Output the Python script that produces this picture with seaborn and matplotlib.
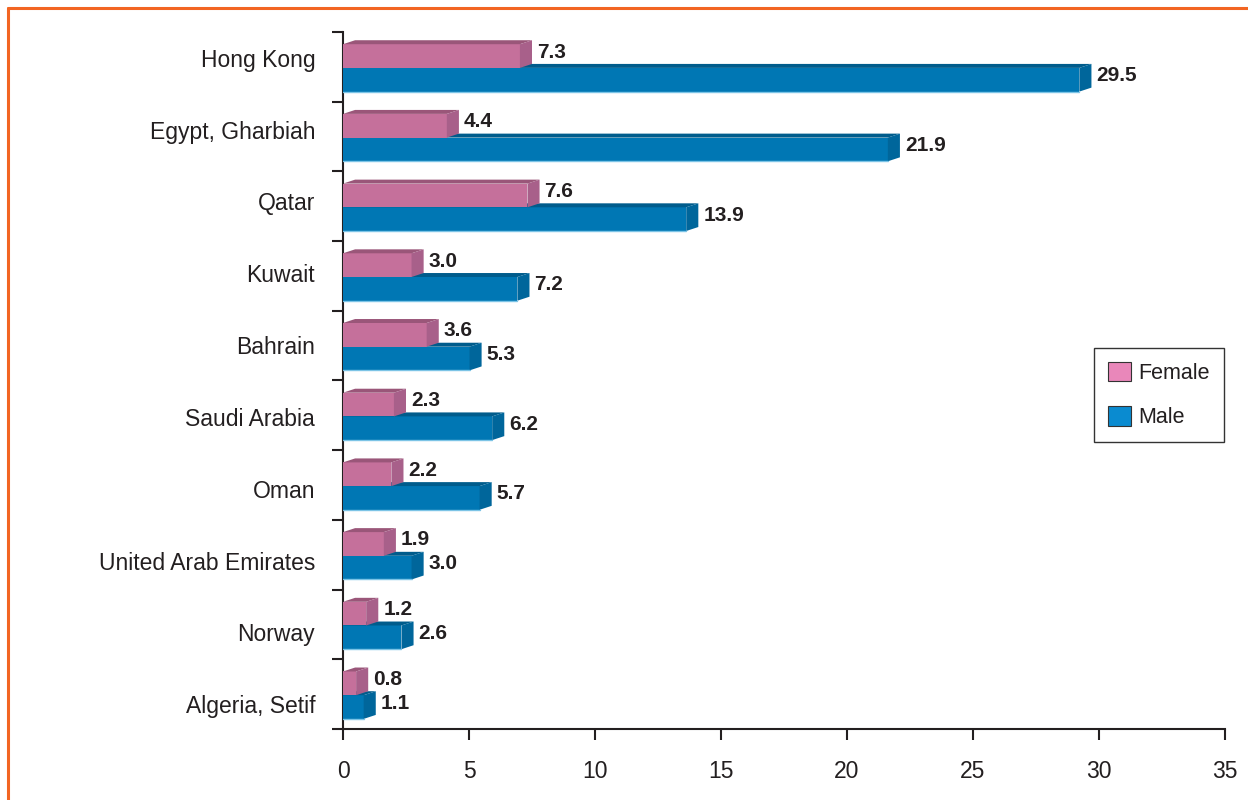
import numpy as np
import pandas as pd
import seaborn as sns
import matplotlib.pyplot as plt
from matplotlib.patches import Polygon, Patch
from matplotlib.lines import Line2D

countries = ["Hong Kong", "Egypt, Gharbiah", "Qatar", "Kuwait", "Bahrain",
             "Saudi Arabia", "Oman", "United Arab Emirates", "Norway", "Algeria, Setif"]
female = [7.3, 4.4, 7.6, 3.0, 3.6, 2.3, 2.2, 1.9, 1.2, 0.8]
male = [29.5, 21.9, 13.9, 7.2, 5.3, 6.2, 5.7, 3.0, 2.6, 1.1]
sexes = ["Female", "Male"]

df = pd.DataFrame({
    "country": countries * 2,
    "sex": ["Female"] * len(countries) + ["Male"] * len(countries),
    "value": female + male,
})

# front / top / side colours for the fake 3d bars
front = {"Female": "#c5709b", "Male": "#0077b4"}
top = {"Female": "#9a5679", "Male": "#005c8c"}
side = {"Female": "#a8608a", "Male": "#00669b"}
legend_col = {"Female": "#e987ba", "Male": "#0a8bd0"}
ink = "#231f20"

sns.set_style("ticks")
plt.rcParams["font.family"] = ["Liberation Sans", "DejaVu Sans"]

fig = plt.figure(figsize=(12.48, 8), dpi=100)
ax = fig.add_axes([343 / 1248, 1 - 729 / 800, 882 / 1248, 697 / 800])

sns.barplot(data=df, y="country", x="value", hue="sex", orient="h",
            palette=front, width=0.68, gap=0, legend=False, ax=ax,
            saturation=1, err_kws={"linewidth": 0})

dx, dy = 0.48, 0.057   # depth of the 3d effect in data units
shrink = 0.28

for sex, cont, z in zip(sexes, ax.containers, [4, 3]):
    vals = female if sex == "Female" else male
    for p, v in zip(cont.patches, vals):
        p.set_edgecolor("none")
        p.set_zorder(z)
        w = p.get_width() - shrink
        p.set_width(w)
        y, h = p.get_y() + 0.015, p.get_height()
        p.set_y(y)
        ax.add_patch(Polygon([(0, y), (dx, y - dy), (w + dx, y - dy), (w, y)],
                             closed=True, fc=top[sex], ec="none", zorder=z))
        ax.add_patch(Polygon([(w, y), (w + dx, y - dy), (w + dx, y + h - dy), (w, y + h)],
                             closed=True, fc=side[sex], ec="none", zorder=z))
        if sex == "Male":
            ax.plot([0, w], [y + h, y + h], color="#7cc4e6", lw=1, zorder=z)
        ax.text(w + dx + 0.2, y + h / 2 - dy, f"{v:.1f}", ha="left", va="center",
                fontsize=15, fontweight="bold", color=ink, zorder=6)

ax.set_xlim(0, 35)
ax.set_ylim(9.5, -0.5)
ax.set_xticks(range(0, 36, 5))
# category labels sit a touch wider apart than the bands in the original
ax.set_yticks(np.linspace(-0.13, 9.145, len(countries)))
ax.set_yticklabels(countries)
ax.set_yticks(np.arange(-0.5, 10, 1), minor=True)
ax.tick_params(axis="y", which="major", length=0, pad=20, labelsize=16.5, labelcolor=ink)
ax.tick_params(axis="y", which="minor", length=8, width=1.5, color=ink, direction="out")
ax.tick_params(axis="x", length=8, width=1.5, color=ink, direction="out",
               pad=14, labelsize=16.5, labelcolor=ink)
ax.set_xlabel("")
ax.set_ylabel("")
sns.despine(ax=ax)
for s in ["left", "bottom"]:
    ax.spines[s].set_linewidth(1.5)
    ax.spines[s].set_color(ink)

handles = [Patch(facecolor=legend_col[s], edgecolor="#333333", linewidth=0.8) for s in sexes]
leg = ax.legend(handles, sexes, loc="upper right", bbox_to_anchor=(0.999, 0.547),
                fontsize=15.5, frameon=True, fancybox=False, framealpha=1,
                handlelength=1.05, handleheight=1.0, handletextpad=0.35,
                labelspacing=1.05, borderpad=0.65, borderaxespad=0)
leg.get_frame().set_edgecolor("#333333")
leg.get_frame().set_linewidth(1)
for t in leg.get_texts():
    t.set_color(ink)

orange = "#f26522"
fig.add_artist(Line2D([7.5 / 1248, 7.5 / 1248], [0, 1 - 7.5 / 800],
                      transform=fig.transFigure, color=orange, lw=2.2))
fig.add_artist(Line2D([7.5 / 1248, 1], [1 - 7.5 / 800, 1 - 7.5 / 800],
                      transform=fig.transFigure, color=orange, lw=2.2))

fig.savefig("out.png", dpi=100)
